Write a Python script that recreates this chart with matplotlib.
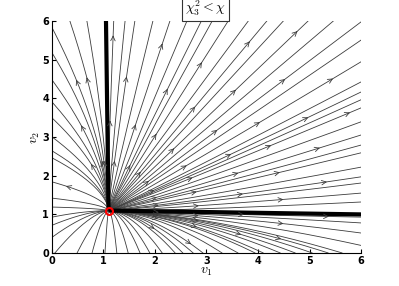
import numpy as np
import matplotlib
matplotlib.use("Agg")
import matplotlib.pyplot as plt

plt.rcParams['mathtext.fontset'] = 'cm'

# ' Values
eq_point = (1.1, 1.1)              # unstable node (red marker)
null_v1_x = [1.1, 1.05]            # thick vertical branch (v1' = 0)
null_v1_y = [1.1, 6.0]
null_v2_x = [1.1, 6.0]             # thick horizontal branch (v2' = 0)
null_v2_y = [1.1, 1.0]
ticks = [0, 1, 2, 3, 4, 5, 6]
title_text = r'$\chi_3^2 < \chi$'

# where the trajectories leave the box
exit_top_x = [0.35, 0.68, 1.2, 1.42, 1.61, 1.96, 2.29, 2.62, 2.9, 3.11, 3.42,
              3.81, 4.17, 4.49, 4.97, 5.46]
exit_right_y = [5.97, 5.5, 4.94, 4.42, 4.16, 3.96, 3.75, 3.39, 3.05, 2.79, 2.59,
                2.22, 1.97, 1.81, 1.55, 1.32, 0.93, 0.78, 0.52, 0.2]
exit_left_y = [5.82, 5.17, 4.47, 3.90, 3.49, 3.0, 2.64, 2.46, 1.84, 1.42, 1.19,
               0.93, 0.72, 0.41]
exit_bottom_x = [0.06, 0.49, 0.78, 1.03, 1.26, 1.48, 1.71, 1.90, 2.14, 2.39,
                 2.54, 2.74, 2.93, 3.30, 3.61, 3.94, 4.10, 4.43, 4.72, 5.05,
                 5.36, 5.63]

# bending of the trajectories in each quadrant round the node (estimated)
bend_tl = 0.75   # top-left: curves bend towards v1 = 0
bend_br = 0.8    # bottom-right: curves bend towards v2 = 0
bend_bl = 0.5    # bottom-left

# nullcline slopes/intercepts from the thick lines
c1 = (null_v1_x[1] - null_v1_x[0]) / (null_v1_y[1] - null_v1_y[0])
a1 = null_v1_x[0] - c1 * null_v1_y[0]
c2 = (null_v2_y[1] - null_v2_y[0]) / (null_v2_x[1] - null_v2_x[0])
a2 = null_v2_y[0] - c2 * null_v2_x[0]


def step(n):
    return 0.5 * (1 + np.tanh(n / 0.05))


def field(p):
    n1 = p[0] - (a1 + c1 * p[1])
    n2 = p[1] - (a2 + c2 * p[0])
    lam_x = 1 + bend_tl * step(-n1) * step(n2)
    lam_y = 1 + bend_br * step(n1) * step(-n2) + bend_bl * step(-n1) * step(-n2)
    return np.array([lam_x * n1, lam_y * n2])


def back_trace(p0, ds=0.01, nmax=3000):
    # follow the flow backwards from the exit point to the node
    def d(p):
        v = -field(p)
        return v / (np.hypot(*v) + 1e-12)
    pts = [np.array(p0, float)]
    p = pts[0]
    eq = np.array(eq_point)
    for _ in range(nmax):
        if np.hypot(*(p - eq)) < 0.02:
            break
        k1 = d(p)
        k2 = d(p + 0.5 * ds * k1)
        k3 = d(p + 0.5 * ds * k2)
        k4 = d(p + ds * k3)
        p = p + ds / 6 * (k1 + 2 * k2 + 2 * k3 + k4)
        pts.append(p)
    pts.append(eq)
    return np.array(pts[::-1])   # node -> exit, in flow direction


starts = ([(xv, 5.995) for xv in exit_top_x] + [(5.995, yv) for yv in exit_right_y]
          + [(0.005, yv) for yv in exit_left_y] + [(xv, 0.005) for xv in exit_bottom_x])

fig = plt.figure(figsize=(3.99, 2.86), dpi=100)
ax = fig.add_axes([0.130, 0.115, 0.775, 0.812])

line_col = '#3c3c3c'
px_x, px_y = 51.5, 38.7   # pixels per data unit, to space the arrows evenly
for i, s in enumerate(starts):
    tr = back_trace(s)
    ax.plot(tr[:, 0], tr[:, 1], color=line_col, lw=0.6)
    if i % 2:
        continue
    seg = np.hypot(np.diff(tr[:, 0]) * px_x, np.diff(tr[:, 1]) * px_y)
    arc = np.concatenate([[0], np.cumsum(seg)])
    for sa in np.arange(50 + 20 * (i % 4), arc[-1] - 10, 85):
        j = np.searchsorted(arc, sa)
        j0 = max(j - 3, 0)
        ax.annotate('', xy=tr[j], xytext=tr[j0],
                    arrowprops=dict(arrowstyle='->', color=line_col, lw=0.6,
                                    mutation_scale=8, shrinkA=0, shrinkB=0))

ax.plot(null_v1_x, null_v1_y, color='black', lw=3, solid_capstyle='butt')
ax.plot(null_v2_x, null_v2_y, color='black', lw=3, solid_capstyle='butt')
ax.plot(*eq_point, 'o', mfc='none', mec='red', mew=1.5, ms=5)

ax.set_xlim(0, 6)
ax.set_ylim(0, 6)
ax.set_xticks(ticks)
ax.set_yticks(ticks)
ax.tick_params(direction='in', length=3, labelsize=7, pad=2)
for lab in ax.get_xticklabels() + ax.get_yticklabels():
    lab.set_fontweight('bold')
for s in ['top', 'right']:
    ax.spines[s].set_visible(False)
ax.set_xlabel(r'$v_1$', fontsize=10, labelpad=-1)
ax.set_ylabel(r'$v_2$', fontsize=10, labelpad=0)

fig.text(0.515, 0.97, title_text, ha='center', va='center', fontsize=10,
         bbox=dict(boxstyle='square,pad=0.2', fc='white', ec='#333333', lw=0.8))

fig.savefig('out.png', dpi=100)
